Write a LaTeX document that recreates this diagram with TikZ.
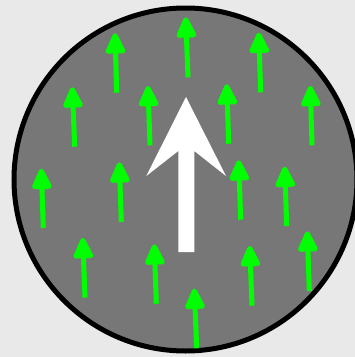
\documentclass[tikz,border=0pt]{standalone}
\usetikzlibrary{arrows.meta}

\definecolor{bggray}{HTML}{E9E9E9}
\definecolor{diskgray}{HTML}{777777}
\definecolor{fieldgreen}{HTML}{00FF00}

\tikzset{
  field arrow/.style={draw=fieldgreen, line width=5pt,
    -{Triangle[length=24pt,width=21pt,round]}},
}

\begin{document}
\begin{tikzpicture}[x=1pt,y=-1pt]
\useasboundingbox (0,0) rectangle (355,357);
\fill[bggray] (0,0) rectangle (355,357);
% disk
\draw[fill=diskgray, line width=5pt] (185.5,179.5) circle[radius=171.5];
% small field arrows (tail / tip)
\foreach \ax/\ay/\bx/\by in {
  116.7/92.7/115/33.3, 188/77.3/185.7/17.3, 260.7/92.3/258.7/32.7,
  74.7/146.7/72.3/87.3, 150/145.3/148/86, 228.7/143.7/226.7/84.3,
  312/145.3/310.3/86, 43.3/228/41.3/168.7, 121.3/222/119.3/162.3,
  240.7/219.7/238.7/160.3, 286.7/226/284.7/166.7, 85/297.7/82.7/238,
  156.3/303.7/154.3/244.3, 252/305.7/249.7/246, 309.3/291/307.3/231.3,
  196.7/348.3/194.3/288.7}
  \draw[field arrow] (\ax,\ay) -- (\bx,\by);
% big arrow
\fill[white] (186,97) -- (226,176) -- (194.3,151) -- (194.3,252)
  -- (178.3,252) -- (178.3,151) -- (146.3,176) -- cycle;
\end{tikzpicture}
\end{document}
